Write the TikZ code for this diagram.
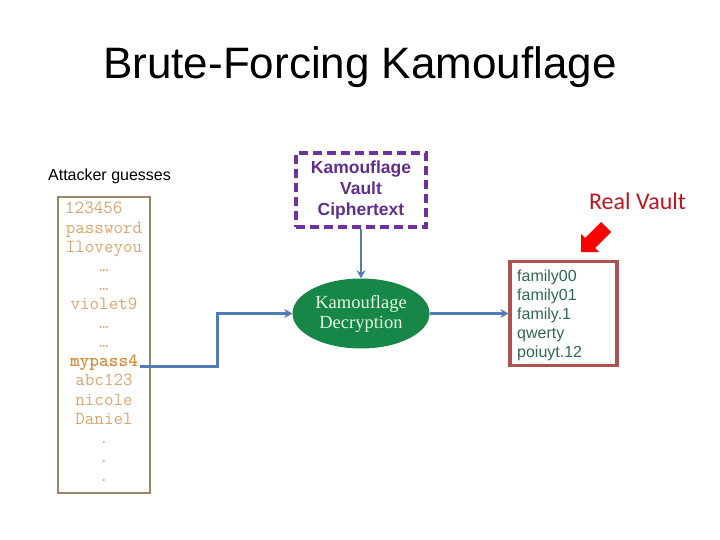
\documentclass[tikz,border=0pt]{standalone}
\usepackage{fontspec}
\setmainfont{Liberation Sans}
\newfontfamily\seriff{Liberation Serif}
\newfontfamily\calf{Carlito}
\newfontfamily\monobold{lmmonolt10-bold.otf}
\usetikzlibrary{shapes.geometric,arrows.meta}
\definecolor{connblue}{RGB}{82,124,184}
\definecolor{guessline}{RGB}{152,134,100}
\definecolor{guesstext}{RGB}{218,165,110}
\definecolor{guessbold}{RGB}{215,140,60}
\definecolor{kpurple}{RGB}{112,48,160}
\definecolor{kpurpletext}{RGB}{98,46,140}
\definecolor{kgreen}{RGB}{22,135,70}
\definecolor{klight}{RGB}{228,245,228}
\definecolor{vaultline}{RGB}{172,82,80}
\definecolor{vaulttext}{RGB}{45,105,78}
\definecolor{realred}{RGB}{192,22,30}
\begin{document}
\begin{tikzpicture}[x=1pt,y=-1pt,
  conn/.style={draw=connblue,line width=2.8pt,-{Stealth[length=8pt,width=9pt]}},
  guess/.style={font=\ttfamily\fontsize{18.5}{19}\selectfont,text=guesstext,inner sep=2pt,anchor=base},
  vline/.style={font=\fontsize{16}{19}\selectfont,text=vaulttext,inner sep=0pt,anchor=base west},
  guessbox/.style={draw=guessline,line width=1.3pt,minimum width=92pt,minimum height=296pt,inner sep=0pt},
  ctbox/.style={draw=kpurple,line width=3.2pt,dash pattern=on 9pt off 5pt,minimum width=130pt,minimum height=74pt,inner sep=0pt,
    align=center,font=\bfseries\fontsize{17.5}{21}\selectfont,text=kpurpletext},
  decnode/.style={ellipse,fill=kgreen,minimum width=137pt,minimum height=70pt,inner sep=0pt,
    align=center,font=\seriff\fontsize{18.5}{20}\selectfont,text=klight},
  vaultbox/.style={draw=vaultline,line width=3.2pt,minimum width=107pt,minimum height=104pt,inner sep=0pt}]
\useasboundingbox (0,0) rectangle (720,540);

% title
\node[font=\fontsize{44}{50}\selectfont,anchor=base,inner sep=0pt] (title) at (360,79) {Brute-Forcing Kamouflage};

% attacker guesses
\node[font=\fontsize{16}{19}\selectfont,anchor=base,inner sep=0pt] (att) at (109.5,181) {Attacker guesses};
\node[guessbox] (gbox) at (104,345) {};
\node[guess,anchor=base west] (g0) at (63,214) {123456};
\foreach \i/\t in {1/password,2/Iloveyou,3/…,4/…,5/violet9,6/…,7/…,9/abc123,10/nicole,11/Daniel,12/.,13/.,14/.}
  \node[guess] (g\i) at (104,{214+19.1*\i}) {\t};
\node[guess,text=guessbold,font=\monobold\fontsize{18.5}{19}\selectfont] (g8) at (104,{214+19.1*8}) {mypass4};

% ciphertext box
\node[ctbox] (ct) at (361,190) {Kamouflage\\Vault\\Ciphertext};

% decryption ellipse
\node[decnode] (dec) at (361,313.5) {Kamouflage\\Decryption};

% real vault
\node[vaultbox] (vault) at (563.5,313.5) {};
\foreach \i/\t in {0/family00,1/family01,2/family.1,3/qwerty,4/poiuyt.12}
  \node[vline] (v\i) at (517,{281+19.2*\i}) {\t};
\node[font=\calf\fontsize{24}{27}\selectfont,text=realred,anchor=base,inner sep=0pt] (rv) at (637.5,210) {Real Vault};

% red block arrow
\fill[red] (581,252) -- (599,252) -- (595,248) -- (611,232) -- (601,222) -- (585,238) -- (581,234) -- cycle;

% connectors
\coordinate (kink) at (217.5,313.5);
\draw[conn] (g8.base east) -| (kink) -- (dec.west);
\draw[conn] (ct.south) -- (dec.north);
\draw[conn] (dec.east) -- (vault.west);
\end{tikzpicture}
\end{document}
